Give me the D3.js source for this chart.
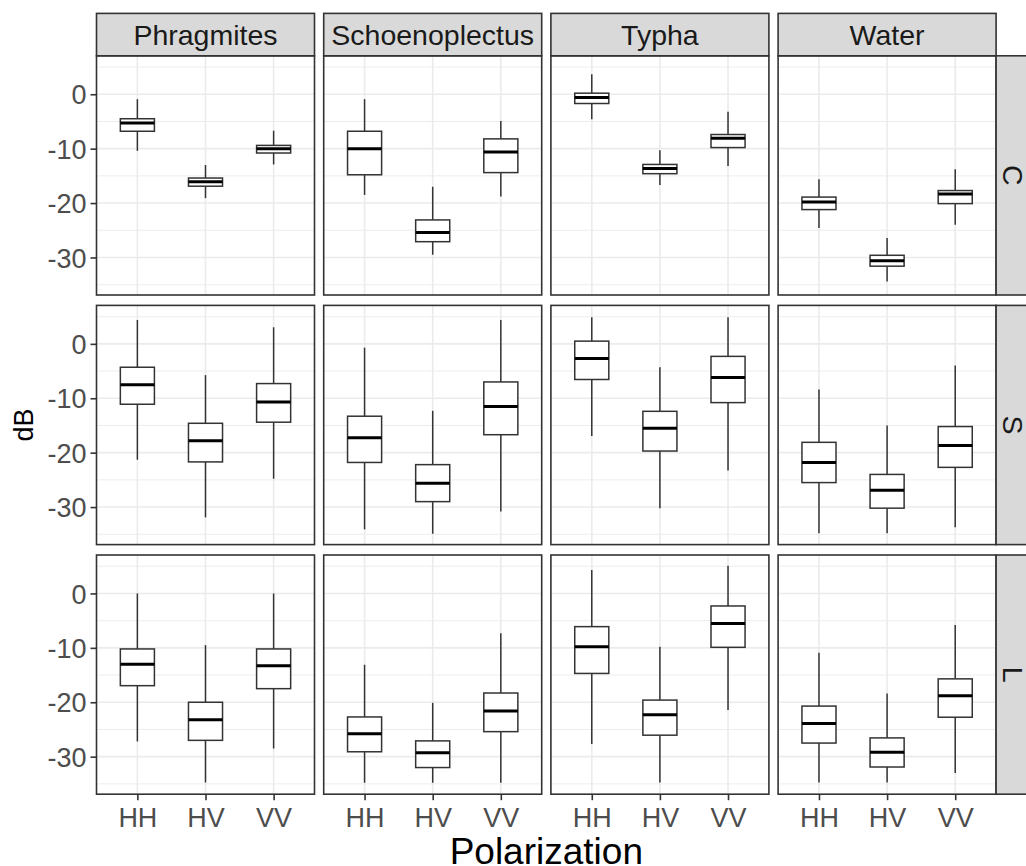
<!DOCTYPE html>
<html><head><meta charset="utf-8">
<script src="https://cdn.jsdelivr.net/npm/d3@7"></script>
<style>body{margin:0;background:#fff}svg{display:block}</style>
</head><body>
<svg id="chart" width="1026" height="866"></svg>
<script>
// ---- data ----
const species = ["Phragmites", "Schoenoplectus", "Typha", "Water"];
const bands = ["C", "S", "L"];
const pols = ["HH", "HV", "VV"];
const yTicks = [0, -10, -20, -30];
const yTickLabels = ["0", "-10", "-20", "-30"];
const yMinor = [5, -5, -15, -25, -35];
// each entry: [whiskerLow, q1, median, q3, whiskerHigh], by species then polarization
const boxC = [
  [[-10.4, -6.8, -5.3, -4.5, -0.9], [-19.1, -16.9, -16.1, -15.4, -13.0], [-12.9, -10.8, -10.0, -9.4, -6.7]],
  [[-18.5, -14.8, -10.0, -6.8, -0.9], [-29.5, -27.1, -25.4, -23.1, -17.0], [-18.8, -14.4, -10.6, -8.2, -4.9]],
  [[-4.6, -1.7, -0.6, 0.2, 3.7], [-16.7, -14.6, -13.65, -12.9, -10.3], [-13.2, -9.8, -8.1, -7.4, -3.2]],
  [[-24.6, -21.2, -19.8, -18.9, -15.6], [-34.4, -31.6, -30.6, -29.6, -26.4], [-24.0, -20.1, -18.35, -17.7, -13.8]]
];
const boxS = [
  [[-21.3, -11.1, -7.5, -4.3, 4.4], [-31.9, -21.7, -17.8, -14.6, -5.75], [-24.8, -14.4, -10.7, -7.3, 3.05]],
  [[-34.1, -21.8, -17.25, -13.3, -0.7], [-34.9, -29.0, -25.6, -22.2, -12.3], [-30.8, -16.7, -11.5, -7.0, 4.4]],
  [[-16.95, -6.55, -2.7, 0.5, 4.9], [-30.2, -19.7, -15.5, -12.4, -4.3], [-23.3, -10.8, -6.2, -2.3, 4.9]],
  [[-34.8, -25.5, -21.8, -18.1, -8.4], [-34.8, -30.2, -26.9, -24.0, -15.0], [-33.7, -22.7, -18.7, -15.2, -4.0]]
];
const boxL = [
  [[-27.2, -16.95, -13.0, -10.2, 0.0], [-34.75, -27.0, -23.2, -20.0, -9.5], [-28.5, -17.5, -13.3, -10.2, 0.0]],
  [[-34.8, -29.1, -25.8, -22.7, -13.1], [-34.8, -32.0, -29.3, -27.1, -20.1], [-34.8, -25.4, -21.6, -18.3, -7.3]],
  [[-27.65, -14.7, -9.8, -6.1, 4.3], [-34.75, -26.05, -22.3, -19.6, -9.8], [-21.4, -9.9, -5.5, -2.3, 5.07]],
  [[-34.75, -27.5, -23.9, -20.7, -10.9], [-34.75, -31.9, -29.2, -26.55, -18.4], [-33.0, -22.75, -18.8, -15.7, -5.8]]
];
const boxesByBand = [boxC, boxS, boxL];
const xTitle = "Polarization";
const yTitle = "dB";

// ---- layout ----
const svg = d3.select("#chart");
const font = "'Liberation Sans', Arial, sans-serif";
const panelW = 218, panelH = 239.2;
const colLeft = i => 96.5 + i * 227.2;
const rowTop = j => 55.8 + j * 249.6;
const stripTop = 13.4;
const stripH = 42.4;
const border = "#333333";
const gridCol = "#EBEBEB";

const allVals = boxesByBand.flat(3);
const ext = d3.extent(allVals);
const pad = (ext[1] - ext[0]) * 0.05;
const y = d3.scaleLinear().domain([ext[0] - pad, ext[1] + pad]).range([panelH, 0]);
const x = d3.scalePoint().domain(pols).range([0, panelW]).padding(0.6);
const boxW = x.step() * 0.5;

bands.forEach((band, j) => {
  species.forEach((sp, i) => {
    const g = svg.append("g").attr("transform", `translate(${colLeft(i)},${rowTop(j)})`);
    g.append("rect").attr("width", panelW).attr("height", panelH).attr("fill", "#fff");
    // minor grid
    g.selectAll(".ymin").data(yMinor.filter(v => y(v) > 0 && y(v) < panelH)).join("line")
      .attr("x1", 0).attr("x2", panelW).attr("y1", d => y(d)).attr("y2", d => y(d))
      .attr("stroke", gridCol).attr("stroke-width", 0.9);
    // major grid
    g.selectAll(".ymaj").data(yTicks).join("line")
      .attr("x1", 0).attr("x2", panelW).attr("y1", d => y(d)).attr("y2", d => y(d))
      .attr("stroke", gridCol).attr("stroke-width", 1.6);
    g.selectAll(".xmaj").data(pols).join("line")
      .attr("y1", 0).attr("y2", panelH).attr("x1", d => x(d)).attr("x2", d => x(d))
      .attr("stroke", gridCol).attr("stroke-width", 1.6);
    // boxes
    const data = boxesByBand[j][i].map((s, k) => ({pol: pols[k], s}));
    const bx = g.selectAll(".box").data(data).join("g");
    bx.append("line").attr("x1", d => x(d.pol)).attr("x2", d => x(d.pol))
      .attr("y1", d => y(d.s[4])).attr("y2", d => y(d.s[3]))
      .attr("stroke", border).attr("stroke-width", 1.5);
    bx.append("line").attr("x1", d => x(d.pol)).attr("x2", d => x(d.pol))
      .attr("y1", d => y(d.s[1])).attr("y2", d => y(d.s[0]))
      .attr("stroke", border).attr("stroke-width", 1.5);
    bx.append("rect").attr("x", d => x(d.pol) - boxW / 2).attr("width", boxW)
      .attr("y", d => y(d.s[3])).attr("height", d => y(d.s[1]) - y(d.s[3]))
      .attr("fill", "#fff").attr("stroke", border).attr("stroke-width", 1.5);
    bx.append("line").attr("x1", d => x(d.pol) - boxW / 2).attr("x2", d => x(d.pol) + boxW / 2)
      .attr("y1", d => y(d.s[2])).attr("y2", d => y(d.s[2]))
      .attr("stroke", "#000").attr("stroke-width", 3);
    g.append("rect").attr("width", panelW).attr("height", panelH)
      .attr("fill", "none").attr("stroke", border).attr("stroke-width", 1.6);

    // y axis on first column
    if (i === 0) {
      const ya = g.append("g").call(d3.axisLeft(y).tickValues(yTicks).tickSize(6).tickPadding(4)
        .tickFormat((d, k) => yTickLabels[k]));
      ya.select(".domain").remove();
      ya.selectAll(".tick line").attr("stroke", border).attr("stroke-width", 1.6);
      ya.selectAll(".tick text").attr("fill", "#4D4D4D").style("font-family", font).style("font-size", "27px").attr("dy", "0.36em");
    }
    // x axis on last row
    if (j === bands.length - 1) {
      const xa = g.append("g").attr("transform", `translate(0,${panelH})`).call(d3.axisBottom(x).tickSize(6).tickPadding(4));
      xa.select(".domain").remove();
      xa.selectAll(".tick line").attr("stroke", border).attr("stroke-width", 1.6);
      xa.selectAll(".tick text").attr("fill", "#4D4D4D").style("font-family", font).style("font-size", "27px").attr("dy", "0.85em");
    }
    // top strip
    if (j === 0) {
      const s = svg.append("g").attr("transform", `translate(${colLeft(i)},${stripTop})`);
      s.append("rect").attr("width", panelW).attr("height", stripH).attr("fill", "#D9D9D9")
        .attr("stroke", border).attr("stroke-width", 1.6);
      s.append("text").attr("x", panelW / 2).attr("y", stripH / 2).attr("dy", "0.36em")
        .attr("text-anchor", "middle").attr("fill", "#1A1A1A")
        .style("font-family", font).style("font-size", "28.5px").text(sp);
    }
    // right strip
    if (i === species.length - 1) {
      const s = svg.append("g").attr("transform", `translate(${colLeft(i) + panelW},${rowTop(j)})`);
      s.append("rect").attr("width", stripH).attr("height", panelH).attr("fill", "#D9D9D9")
        .attr("stroke", border).attr("stroke-width", 1.6);
      s.append("text").attr("transform", `translate(${17.5},${panelH / 2}) rotate(90)`)
        .attr("dy", "0.36em").attr("text-anchor", "middle").attr("fill", "#1A1A1A")
        .style("font-family", font).style("font-size", "28.5px").text(band);
    }
  });
});

// axis titles
const plotLeft = colLeft(0), plotRight = colLeft(3) + panelW;
svg.append("text").attr("x", (plotLeft + plotRight) / 2).attr("y", 864)
  .attr("text-anchor", "middle").attr("fill", "#000")
  .style("font-family", font).style("font-size", "37px").text(xTitle);
svg.append("text").attr("transform", `translate(33,${rowTop(1) + panelH / 2}) rotate(-90)`)
  .attr("text-anchor", "middle").attr("fill", "#000")
  .style("font-family", font).style("font-size", "27px").text(yTitle);
</script>
</body></html>
